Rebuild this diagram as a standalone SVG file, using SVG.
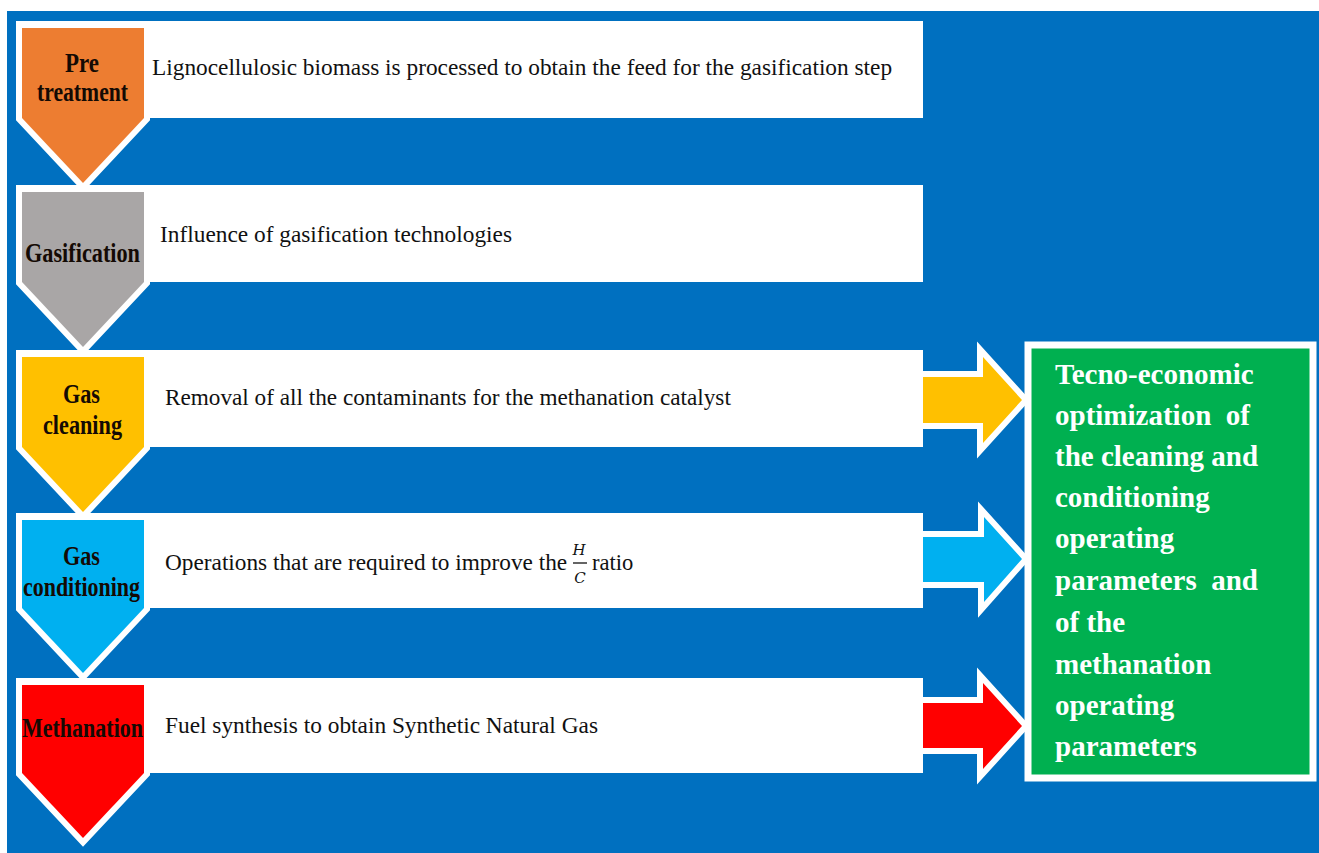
<svg xmlns="http://www.w3.org/2000/svg" width="1319" height="853" viewBox="0 0 1319 853">
<style>
.row{fill:#ffffff}
.chev{stroke:#ffffff;stroke-width:12;stroke-linejoin:miter;stroke-miterlimit:10;paint-order:stroke}
.lbl{font-family:"Liberation Serif","DejaVu Serif",serif;font-weight:bold;font-size:27px;fill:#140a04}
.desc{font-family:"Liberation Serif","DejaVu Serif",serif;font-size:24px;fill:#111111}
.arr{stroke:#ffffff;stroke-width:12;stroke-linejoin:miter;stroke-miterlimit:10;paint-order:stroke}
.gt{font-family:"Liberation Serif","DejaVu Serif",serif;font-weight:bold;font-size:29px;fill:#ffffff}
.frac{font-family:"DejaVu Serif","Liberation Serif",serif;font-style:italic;font-size:15px;fill:#111111}
</style>
<rect x="0" y="0" width="1319" height="853" fill="#ffffff"/>
<rect x="7" y="11" width="1312" height="842" fill="#0070C0"/>

<g id="connectors">
  <polygon class="arr" fill="#FFC000" points="923,377 983,377 983,357 1022,400 983,443 983,423 923,423"/>
  <polygon class="arr" fill="#00B0F0" points="923,537 984,537 984,517 1022,559 984,602 984,582 923,582"/>
  <polygon class="arr" fill="#FF0000" points="923,703 983,703 983,683 1022,726 983,769 983,748 923,748"/>
</g>

<g id="node-pretreatment">
  <rect class="row" x="16" y="21" width="907" height="97"/>
  <polygon class="chev" fill="#ED7D31" points="22,28 144,28 144,118 83,183 22,118"/>
  <text class="lbl" x="65" y="72" textLength="34" lengthAdjust="spacingAndGlyphs">Pre</text>
  <text class="lbl" x="37" y="101" textLength="91" lengthAdjust="spacingAndGlyphs">treatment</text>
  <text class="desc" transform="translate(152,75) scale(0.88,1)" x="0" y="0" textLength="841" lengthAdjust="spacingAndGlyphs">Lignocellulosic biomass is processed to obtain the feed for the gasification step</text>
</g>

<g id="node-gasification">
  <rect class="row" x="16" y="185" width="907" height="97"/>
  <polygon class="chev" fill="#A9A6A6" points="22,192 144,192 144,282 83,347 22,282"/>
  <text class="lbl" x="25" y="262" textLength="115" lengthAdjust="spacingAndGlyphs">Gasification</text>
  <text class="desc" transform="translate(160,242) scale(0.88,1)" x="0" y="0" textLength="400" lengthAdjust="spacingAndGlyphs">Influence of gasification technologies</text>
</g>

<g id="node-gascleaning">
  <rect class="row" x="16" y="350" width="907" height="97"/>
  <polygon class="chev" fill="#FFC000" points="22,357 144,357 144,447 83,512 22,447"/>
  <text class="lbl" x="63" y="403" textLength="37" lengthAdjust="spacingAndGlyphs">Gas</text>
  <text class="lbl" x="43" y="434" textLength="79" lengthAdjust="spacingAndGlyphs">cleaning</text>
  <text class="desc" transform="translate(165,405) scale(0.88,1)" x="0" y="0" textLength="643" lengthAdjust="spacingAndGlyphs">Removal of all the contaminants for the methanation catalyst</text>
</g>

<g id="node-gasconditioning">
  <rect class="row" x="16" y="513" width="907" height="95"/>
  <polygon class="chev" fill="#00B0F0" points="22,520 144,520 144,608 83,673 22,608"/>
  <text class="lbl" x="63" y="565" textLength="37" lengthAdjust="spacingAndGlyphs">Gas</text>
  <text class="lbl" x="23" y="596" textLength="117" lengthAdjust="spacingAndGlyphs">conditioning</text>
  <text class="desc" transform="translate(165,570) scale(0.88,1)" x="0" y="0" textLength="457" lengthAdjust="spacingAndGlyphs">Operations that are required to improve the</text>
  <text class="frac" x="579" y="555" text-anchor="middle">H</text>
  <line x1="573" y1="563" x2="587" y2="563" stroke="#111111" stroke-width="1.3"/>
  <text class="frac" x="580" y="583" text-anchor="middle">C</text>
  <text class="desc" transform="translate(592,570) scale(0.88,1)" x="0" y="0" textLength="47" lengthAdjust="spacingAndGlyphs">ratio</text>
</g>

<g id="node-methanation">
  <rect class="row" x="16" y="678" width="907" height="95"/>
  <polygon class="chev" fill="#FF0000" points="22,685 144,685 144,773 83,838 22,773"/>
  <text class="lbl" x="22" y="737" textLength="121" lengthAdjust="spacingAndGlyphs">Methanation</text>
  <text class="desc" transform="translate(165,733) scale(0.88,1)" x="0" y="0" textLength="492" lengthAdjust="spacingAndGlyphs">Fuel synthesis to obtain Synthetic Natural Gas</text>
</g>

<g id="node-optimization">
  <rect x="1028" y="345" width="285" height="433" fill="#00B050" stroke="#ffffff" stroke-width="7"/>
  <text class="gt" xml:space="preserve"><tspan x="1055" y="384">Tecno-economic</tspan><tspan x="1055" y="425">optimization  of</tspan><tspan x="1055" y="466">the cleaning and</tspan><tspan x="1055" y="507">conditioning</tspan><tspan x="1055" y="548">operating</tspan><tspan x="1055" y="590">parameters  and</tspan><tspan x="1055" y="632">of the</tspan><tspan x="1055" y="674">methanation</tspan><tspan x="1055" y="715">operating</tspan><tspan x="1055" y="756">parameters</tspan></text>
</g>
</svg>
